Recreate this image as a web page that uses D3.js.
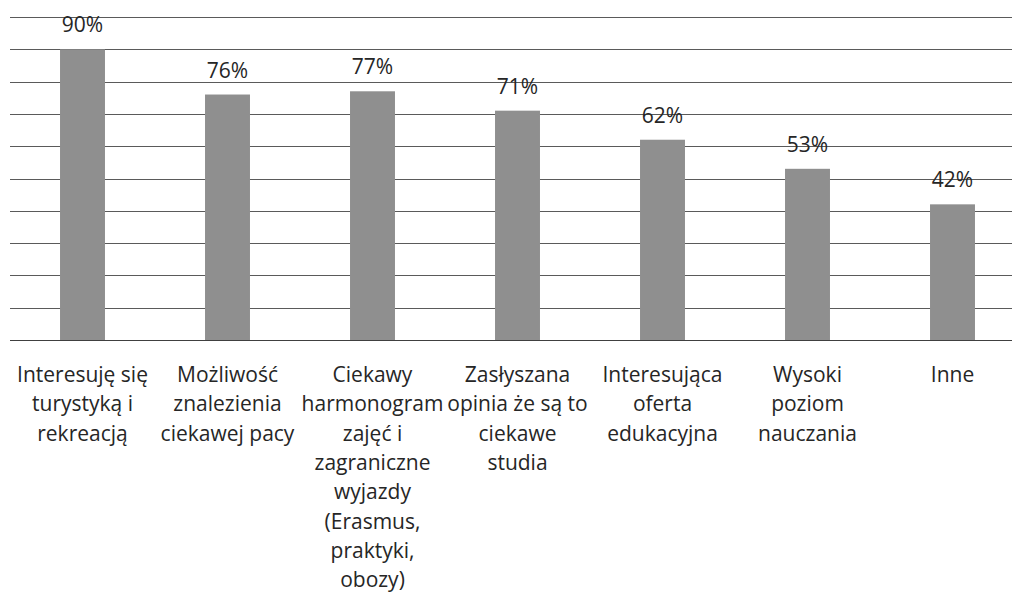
<!DOCTYPE html>
<html>
<head>
<meta charset="utf-8">
<script src="https://cdn.jsdelivr.net/npm/d3@7"></script>
<style>
  body { margin: 0; background: #fff; }
  text { font-family: "Open Sans", sans-serif; fill: #262626; }
</style>
</head>
<body>
<div id="chart"></div>
<script>
// categories (wrapped as in the original) and values in percent
const categories = [
  "Interesuję się turystyką i rekreacją",
  "Możliwość znalezienia ciekawej pacy",
  "Ciekawy harmonogram zajęć i zagraniczne wyjazdy (Erasmus, praktyki, obozy)",
  "Zasłyszana opinia że są to ciekawe studia",
  "Interesująca oferta edukacyjna",
  "Wysoki poziom nauczania",
  "Inne"
];
const labelLines = [
  ["Interesuję się", "turystyką i", "rekreacją"],
  ["Możliwość", "znalezienia", "ciekawej pacy"],
  ["Ciekawy", "harmonogram", "zajęć i", "zagraniczne", "wyjazdy", "(Erasmus,", "praktyki,", "obozy)"],
  ["Zasłyszana", "opinia że są to", "ciekawe", "studia"],
  ["Interesująca", "oferta", "edukacyjna"],
  ["Wysoki", "poziom", "nauczania"],
  ["Inne"]
];
const values = [90, 76, 77, 71, 62, 53, 42];
const gridTicks = [0, 10, 20, 30, 40, 50, 60, 70, 80, 90, 100];

const W = 1013, H = 595;
const plot = {left: 10, right: 1012, top: 17, bottom: 340};

const svg = d3.select("#chart").append("svg")
  .attr("width", W)
  .attr("height", H);

// band scale: step of 145px, runs past the right edge like the original
const x = d3.scaleBand()
  .domain(categories)
  .range([plot.left, plot.left + 145 * categories.length])
  .paddingInner(0.69)
  .paddingOuter(0.345);

const y = d3.scaleLinear()
  .domain([0, 100])
  .range([plot.bottom, plot.top]);

// gridlines
svg.append("g")
  .selectAll("line")
  .data(gridTicks)
  .enter()
  .append("line")
  .attr("x1", plot.left)
  .attr("x2", plot.right)
  .attr("y1", d => Math.round(y(d)) + 0.5)
  .attr("y2", d => Math.round(y(d)) + 0.5)
  .attr("stroke", d => d === 0 ? "#404040" : "#5a5a5a")
  .attr("stroke-width", 1);

// bars
svg.append("g")
  .selectAll("rect")
  .data(values)
  .enter()
  .append("rect")
  .attr("x", (d, i) => x(categories[i]))
  .attr("y", d => y(d))
  .attr("width", x.bandwidth())
  .attr("height", d => y(0) - y(d))
  .attr("fill", "#8f8f8f");

// value labels
svg.append("g")
  .selectAll("text")
  .data(values)
  .enter()
  .append("text")
  .attr("x", (d, i) => x(categories[i]) + x.bandwidth() / 2)
  .attr("y", d => y(d) - 17)
  .attr("text-anchor", "middle")
  .attr("font-size", 21)
  .text(d => d + "%");

// category labels
const catG = svg.append("g");
labelLines.forEach((lines, i) => {
  const cx = x(categories[i]) + x.bandwidth() / 2;
  const t = catG.append("text")
    .attr("x", cx)
    .attr("y", 382)
    .attr("text-anchor", "middle")
    .attr("font-size", 21);
  lines.forEach((line, j) => {
    t.append("tspan")
      .attr("x", cx)
      .attr("y", 382 + j * 29.3)
      .text(line);
  });
});
</script>
</body>
</html>
